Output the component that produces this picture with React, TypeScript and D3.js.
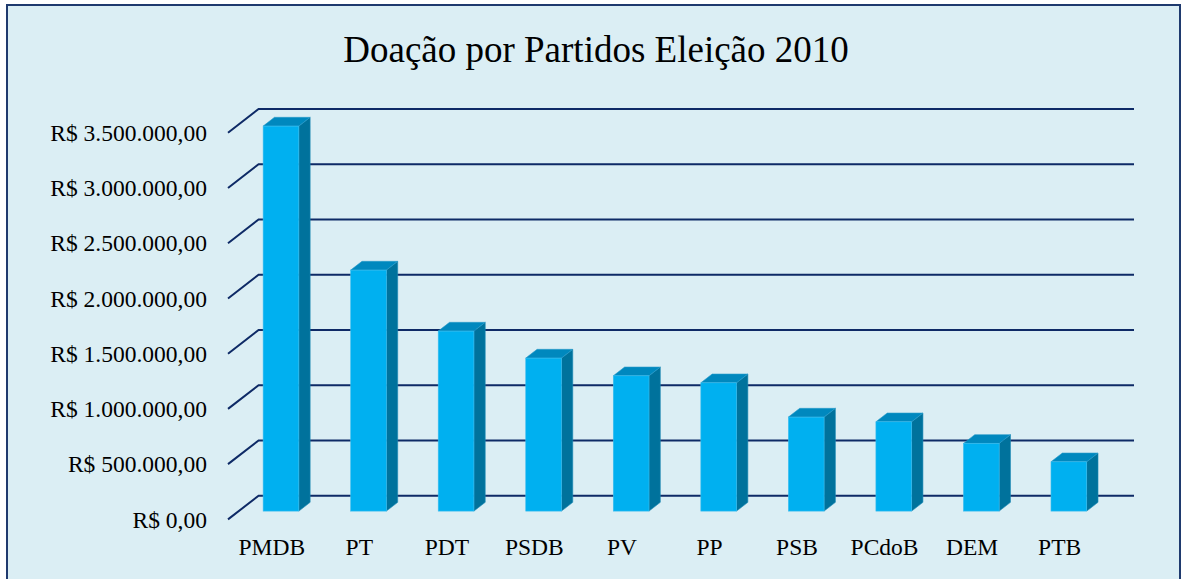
import React from "react";
import * as d3 from "d3";

const categories = ["PMDB", "PT", "PDT", "PSDB", "PV", "PP", "PSB", "PCdoB", "DEM", "PTB"];
const values = [3484700, 2181400, 1629300, 1384900, 1224600, 1161300, 850800, 808300, 612800, 446200];
const tickValues = [0, 500000, 1000000, 1500000, 2000000, 2500000, 3000000, 3500000];
const title = "Doação por Partidos Eleição 2010";

const W = 1186;
const H = 579;
const FONT = "'Liberation Serif', 'Times New Roman', serif";

// back wall geometry
const backLeft = 258.6;
const backRight = 1134;
const backBottom = 495.7;
const backTop = 109;
const depthX = 30.6;
const depthY = 23.7;
// bar depth placement (fraction from back plane)
const barFrontF = 0.65;
const barBackF = 0.28;
const barWidth = 35.7;

const locale = d3.formatLocale({
  decimal: ",",
  thousands: ".",
  grouping: [3],
  currency: ["R$ ", ""],
});
const fmt = locale.format("$,.2f");

export default function App() {
  const x = d3.scaleBand<string>().domain(categories).range([backLeft, backRight]).padding(0);
  const y = d3.scaleLinear().domain([0, 3500000]).range([backBottom, backTop]);

  const gridColor = "#0E2A66";

  return (
    <svg
      width={W}
      height={H}
      style={{ position: "absolute", left: 0, top: 0, display: "block" }}
      fontFamily={FONT}
    >
      <rect x={0} y={0} width={W} height={H} fill="#ffffff" />
      <rect x={7} y={5} width={1173} height={590} fill="#DBEEF4" stroke="#1F3A6E" strokeWidth={2} />
      <text x={596} y={61.5} textAnchor="middle" fontSize={37} fill="#000">
        {title}
      </text>

      {tickValues.map((t) => {
        const yb = y(t);
        return (
          <g key={t}>
            <polyline
              points={`${backLeft - depthX},${yb + depthY} ${backLeft},${yb} ${backRight},${yb}`}
              fill="none"
              stroke={gridColor}
              strokeWidth={2}
            />
            <text
              x={207}
              y={yb + depthY + 8.3}
              textAnchor="end"
              fontSize={23.5}
              fill="#000"
            >
              {fmt(t)}
            </text>
          </g>
        );
      })}

      {categories.map((c, i) => {
        const v = values[i];
        const cx = (x(c) as number) + x.bandwidth() / 2 - 1.5;
        const fx0 = cx - barWidth / 2 - barFrontF * depthX;
        const fx1 = fx0 + barWidth;
        const fyTop = y(v) + barFrontF * depthY;
        const fyBot = y(0) + barFrontF * depthY;
        const ddx = (barFrontF - barBackF) * depthX;
        const ddy = (barFrontF - barBackF) * depthY;
        return (
          <g key={c}>
            <polygon
              points={`${fx1},${fyTop} ${fx1 + ddx},${fyTop - ddy} ${fx1 + ddx},${fyBot - ddy} ${fx1},${fyBot}`}
              fill="#00729C"
              stroke="#1C8AB5"
              strokeWidth={0.6}
            />
            <polygon
              points={`${fx0},${fyTop} ${fx1},${fyTop} ${fx1 + ddx},${fyTop - ddy} ${fx0 + ddx},${fyTop - ddy}`}
              fill="#0088BE"
              stroke="#2A9CCB"
              strokeWidth={0.6}
            />
            <rect
              x={fx0}
              y={fyTop}
              width={barWidth}
              height={fyBot - fyTop}
              fill="#00B0F0"
              stroke="#3CBDEE"
              strokeWidth={0.6}
            />
          </g>
        );
      })}

      {categories.map((c) => {
        const cx = (x(c) as number) + x.bandwidth() / 2 - depthX;
        return (
          <text key={c} x={cx} y={555} textAnchor="middle" fontSize={23.5} fill="#000">
            {c}
          </text>
        );
      })}
    </svg>
  );
}
